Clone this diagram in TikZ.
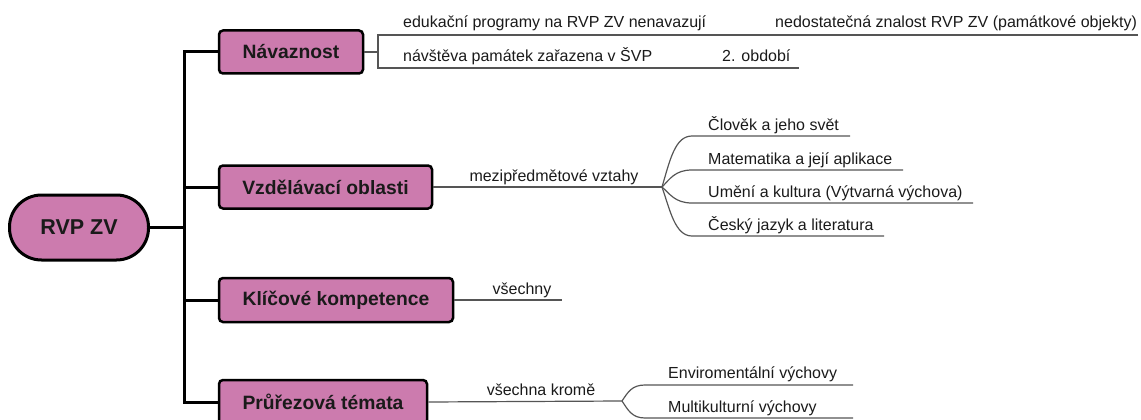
\documentclass[tikz,border=0pt]{standalone}
\usepackage{fontspec}
\setmainfont{Liberation Sans}
\definecolor{pinkfill}{HTML}{CC7BAE}
\definecolor{textdark}{HTML}{1A1A1A}
\definecolor{linegray}{HTML}{555555}
\begin{document}
\begin{tikzpicture}[x=1pt,y=-1pt,
  box/.style={draw=black, line width=2.5pt, fill=pinkfill, rounded corners=4pt, inner sep=0pt,
    font=\fontsize{19.3}{22}\selectfont\bfseries, text=textdark},
  rootbox/.style={draw=black, line width=3pt, fill=pinkfill, rounded corners=32pt, inner sep=0pt,
    minimum width=139pt, minimum height=65pt, font=\fontsize{21.5}{24}\selectfont\bfseries, text=textdark},
  leaf/.style={font=\fontsize{16}{19}\selectfont, text=textdark, inner sep=0pt, anchor=base west},
  midlabel/.style={font=\fontsize{16}{19}\selectfont, text=textdark, inner sep=0pt, anchor=base},
  trunk/.style={draw=black, line width=3pt},
  thinline/.style={draw=linegray, line width=1.2pt}
]
\useasboundingbox (0,0) rectangle (1141,420);

% main nodes
\node[rootbox] (root) at (79,227.5) {RVP ZV};
\node[box, minimum width=144pt, minimum height=43pt] (nav) at (291,52) {Návaznost};
\node[box, minimum width=213pt, minimum height=43pt] (vzd) at (325.5,187) {Vzdělávací oblasti};
\node[box, minimum width=234pt, minimum height=44pt] (kli) at (336,300) {Klíčové kompetence};
\node[box, minimum width=208pt, minimum height=44pt] (pru) at (323,402) {Průřezová témata};

% trunk
\coordinate (tk) at (184,0);
\draw[trunk] (nav.west) -| (tk |- pru.west) -- (pru.west);
\draw[trunk] (root.east) -- (tk |- root.east);
\draw[trunk] (vzd.west) -- (tk |- vzd.west);
\draw[trunk] (kli.west) -- (tk |- kli.west);

% Návaznost branch
\coordinate (nb) at (378,52);
\coordinate (n1a) at (378,35);
\coordinate (n1b) at (1138,35);
\coordinate (n2a) at (378,68);
\coordinate (n2b) at (799,68);
\draw[thinline] (nav.east) -- (nb);
\draw[thinline] (n1b) -- (n1a) -- (n2a) -- (n2b);
\node[leaf] (t1) at (403,28) {edukační programy na RVP ZV nenavazují};
\node[leaf] (t2) at (775,28) {nedostatečná znalost RVP ZV (památkové objekty)};
\node[leaf] (t3) at (403,62) {návštěva památek zařazena v ŠVP};
\node[leaf] (t4) at (722,62) {2. období};

% Vzdělávací oblasti branch
\coordinate (vb) at (662,187);
\draw[thinline] (vzd.east) -- (vb);
\node[midlabel] (mv) at (554,181) {mezipředmětové vztahy};
\coordinate (c1) at (850,136);
\coordinate (c2) at (903,170);
\coordinate (c3) at (973,203);
\coordinate (c4) at (884,236);
\draw[thinline] (vb) .. controls (670,160) and (675,136) .. (692,136) -- (c1);
\draw[thinline] (vb) .. controls (670,179) and (675,170) .. (692,170) -- (c2);
\draw[thinline] (vb) .. controls (670,194) and (675,203) .. (692,203) -- (c3);
\draw[thinline] (vb) .. controls (670,210) and (675,236) .. (692,236) -- (c4);
\node[leaf] (v1) at (708,130) {Člověk a jeho svět};
\node[leaf] (v2) at (708,164) {Matematika a její aplikace};
\node[leaf] (v3) at (708,197) {Umění a kultura (Výtvarná výchova)};
\node[leaf] (v4) at (708,230) {Český jazyk a literatura};

% Klíčové kompetence branch
\coordinate (kb) at (562,300);
\draw[thinline] (kli.east) -- (kb);
\node[midlabel] (kv) at (522,294) {všechny};

% Průřezová témata branch
\coordinate (pb) at (622,401);
\draw[thinline] (pru.east) -- (pb);
\node[midlabel] (pv) at (541,395) {všechna kromě};
\coordinate (e1) at (853,385);
\coordinate (e2) at (853,418);
\draw[thinline] (pb) .. controls (628,392) and (632,385) .. (645,385) -- (e1);
\draw[thinline] (pb) .. controls (628,410) and (632,418) .. (645,418) -- (e2);
\node[leaf] (p1) at (668,378) {Enviromentální výchovy};
\node[leaf] (p2) at (668,412) {Multikulturní výchovy};
\end{tikzpicture}
\end{document}
